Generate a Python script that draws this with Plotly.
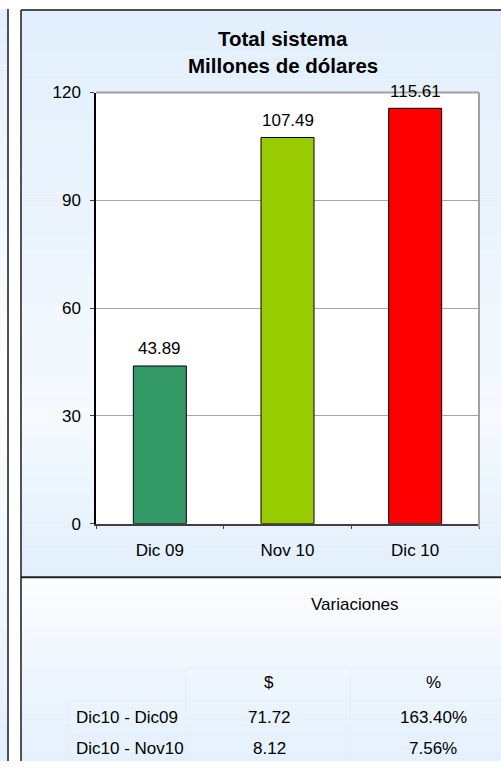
import plotly.graph_objects as go

# ---- data ----
categories = ["Dic 09", "Nov 10", "Dic 10"]
values = [43.89, 107.49, 115.61]
bar_colors = ["#339966", "#99CC00", "#FF0000"]

title_lines = ["Total sistema", "Millones de dólares"]
table_title = "Variaciones"
table_headers = ["$", "%"]
row_labels = ["Dic10 - Dic09", "Dic10 - Nov10"]
col_dollar = ["71.72", "8.12"]
col_pct = ["163.40%", "7.56%"]

W, H = 501, 771
FONT = "Liberation Sans, Arial, sans-serif"
# the captured page is shown shifted ~9px down and squeezed ~2.5% vertically;
# positions below are given in target pixels and converted
OFF, SC = 9.5, 0.975


def px(x):
    return x / W


def py(y):
    f = (y - OFF) / SC
    return min(1.0, max(0.0, 1 - f / H))


def blend(c1, c2, t):
    a = [int(c1[i:i + 2], 16) for i in (1, 3, 5)]
    b = [int(c2[i:i + 2], 16) for i in (1, 3, 5)]
    return "#%02x%02x%02x" % tuple(round(a[k] + (b[k] - a[k]) * t) for k in range(3))


BLUE = "#E2EFFC"
LIGHT = "#F6FAFF"
shapes = []

# chart panel background (blue -> light -> blue)
n = 40
y0, y1, ymid = 9, 578, 420
for i in range(n):
    ya = y0 + (y1 - y0) * i / n
    yb = y0 + (y1 - y0) * (i + 1) / n
    yc = (ya + yb) / 2
    t = (yc - y0) / (ymid - y0) if yc < ymid else (y1 - yc) / (y1 - ymid)
    shapes.append(dict(type="rect", xref="paper", yref="paper",
                       x0=px(21), x1=1, y0=py(yb), y1=py(ya),
                       fillcolor=blend(BLUE, LIGHT, max(0, min(1, t)) ** 1.2),
                       line=dict(width=0), layer="below"))
# table panel background (white -> blue)
n2 = 20
for i in range(n2):
    ya = 578 + (771 - 578) * i / n2
    yb = 578 + (771 - 578) * (i + 1) / n2
    t = (i + 0.5) / n2
    shapes.append(dict(type="rect", xref="paper", yref="paper",
                       x0=px(21), x1=1, y0=0 if i == n2 - 1 else py(yb), y1=py(ya),
                       fillcolor=blend("#FCFDFF", BLUE, t),
                       line=dict(width=0), layer="below"))
# left strip
for i in range(n):
    yc = H * (i + 0.5) / n
    t = 1 - abs(yc - 385) / 385
    shapes.append(dict(type="rect", xref="paper", yref="paper",
                       x0=0, x1=px(8), y0=1 - (i + 1) / n, y1=1 - i / n,
                       fillcolor=blend(BLUE, "#FFFFFF", t),
                       line=dict(width=0), layer="below"))

# plot area white background
shapes.append(dict(type="rect", xref="paper", yref="paper",
                   x0=px(96), x1=px(479), y0=py(524), y1=py(93),
                   fillcolor="white", line=dict(width=0), layer="below"))

top_b = 1 - 0.9 / H
# borders
shapes += [
    dict(type="line", xref="paper", yref="paper", x0=px(8), x1=px(8), y0=0, y1=1,
         line=dict(color="#1a1a1a", width=1.5)),
    dict(type="line", xref="paper", yref="paper", x0=px(21), x1=px(21), y0=0, y1=top_b,
         line=dict(color="#1a1a1a", width=1.5)),
    dict(type="line", xref="paper", yref="paper", x0=px(21), x1=1, y0=top_b, y1=top_b,
         line=dict(color="#1a1a1a", width=1.5)),
    dict(type="line", xref="paper", yref="paper", x0=px(21), x1=1, y0=py(577.5), y1=py(577.5),
         line=dict(color="#222222", width=2)),
    # plot area top/right gray frame
    dict(type="line", xref="paper", yref="paper", x0=px(96), x1=px(479), y0=py(93), y1=py(93),
         line=dict(color="#A0A0A0", width=2)),
    dict(type="line", xref="paper", yref="paper", x0=px(479), x1=px(479), y0=py(528), y1=py(93),
         line=dict(color="#A0A0A0", width=2)),
]

# faint table cell lines
faint = "#E3EEF9"
for (xa, xb, yy) in [(186, 501, 668), (68, 501, 701), (68, 501, 734)]:
    shapes.append(dict(type="line", xref="paper", yref="paper", x0=px(xa), x1=px(xb),
                       y0=py(yy), y1=py(yy), line=dict(color=faint, width=1)))
for (xx, ya, yb) in [(186, 668, 771), (68, 701, 771), (350, 668, 771)]:
    shapes.append(dict(type="line", xref="paper", yref="paper", x0=px(xx), x1=px(xx),
                       y0=py(yb), y1=py(ya), line=dict(color=faint, width=1)))

fig = go.Figure()
fig.add_trace(go.Bar(
    x=categories, y=values,
    marker=dict(color=bar_colors, line=dict(color="black", width=1)),
    hoverinfo="skip",
))

annotations = []
# value labels above the bars (positioned through the data axes)
for c, v in zip(categories, values):
    annotations.append(dict(text=f"{v:.2f}", x=c, y=v, xref="x", yref="y",
                            showarrow=False, xanchor="center", yanchor="middle",
                            yshift=17, font=dict(family=FONT, size=17, color="black")))

title_y = [39, 66]
for line, yy in zip(title_lines, title_y):
    annotations.append(dict(text="<b>" + line + "</b>", x=px(283), y=py(yy),
                            xref="paper", yref="paper", showarrow=False,
                            xanchor="center", yanchor="middle",
                            font=dict(family=FONT, size=20.5, color="black")))
annotations.append(dict(text=table_title, x=px(355), y=py(605), xref="paper", yref="paper",
                        showarrow=False, xanchor="center", yanchor="middle",
                        font=dict(family=FONT, size=17, color="black")))
col_x = [269, 433]
for h, cx in zip(table_headers, col_x):
    annotations.append(dict(text=h, x=px(cx), y=py(683), xref="paper", yref="paper",
                            showarrow=False, xanchor="center", yanchor="middle",
                            font=dict(family=FONT, size=17, color="black")))
row_y = [718, 749]
for lab, d, p, ry in zip(row_labels, col_dollar, col_pct, row_y):
    annotations.append(dict(text=lab, x=px(74), y=py(ry), xref="paper", yref="paper",
                            showarrow=False, xanchor="left", yanchor="middle",
                            font=dict(family=FONT, size=17, color="black")))
    annotations.append(dict(text=d, x=px(col_x[0]), y=py(ry), xref="paper", yref="paper",
                            showarrow=False, xanchor="center", yanchor="middle",
                            font=dict(family=FONT, size=17, color="black")))
    annotations.append(dict(text=p, x=px(col_x[1]), y=py(ry), xref="paper", yref="paper",
                            showarrow=False, xanchor="center", yanchor="middle",
                            font=dict(family=FONT, size=17, color="black")))

fig.update_layout(
    width=W, height=H, autosize=False,
    margin=dict(l=0, r=0, t=0, b=0),
    paper_bgcolor="white", plot_bgcolor="rgba(0,0,0,0)",
    bargap=0.585, showlegend=False,
    font=dict(family=FONT, size=17, color="black"),
    shapes=shapes, annotations=annotations,
    xaxis=dict(domain=[px(96), px(479)], type="category",
               showline=True, linecolor="#404040", linewidth=1.5,
               ticks="outside", ticklen=4, tickcolor="#404040", tickson="boundaries",
               showgrid=False, tickfont=dict(size=17), ticklabelstandoff=10),
    yaxis=dict(domain=[py(524), py(93)], range=[0, 120], dtick=30,
               showline=True, linecolor="black", linewidth=1.5,
               ticks="outside", ticklen=4, tickcolor="#404040",
               gridcolor="#A6A6A6", gridwidth=1, zeroline=False,
               tickfont=dict(size=17), ticklabelstandoff=6),
)

post = (
    "var d=document;"
    "d.documentElement.style.margin='0';d.documentElement.style.padding='0';"
    "d.documentElement.style.overflow='hidden';d.documentElement.style.height='771px';"
    "d.body.style.margin='0';d.body.style.padding='0';d.body.style.overflow='hidden';"
    "d.body.style.height='771px';d.body.style.fontSize='0';d.body.style.lineHeight='0';"
    "var g=d.getElementsByClassName('plotly-graph-div')[0];"
    "g.style.position='absolute';g.style.top='0px';g.style.left='0px';"
)
fig.write_html("out.html", config={"responsive": False, "displayModeBar": False},
               post_script=post)
